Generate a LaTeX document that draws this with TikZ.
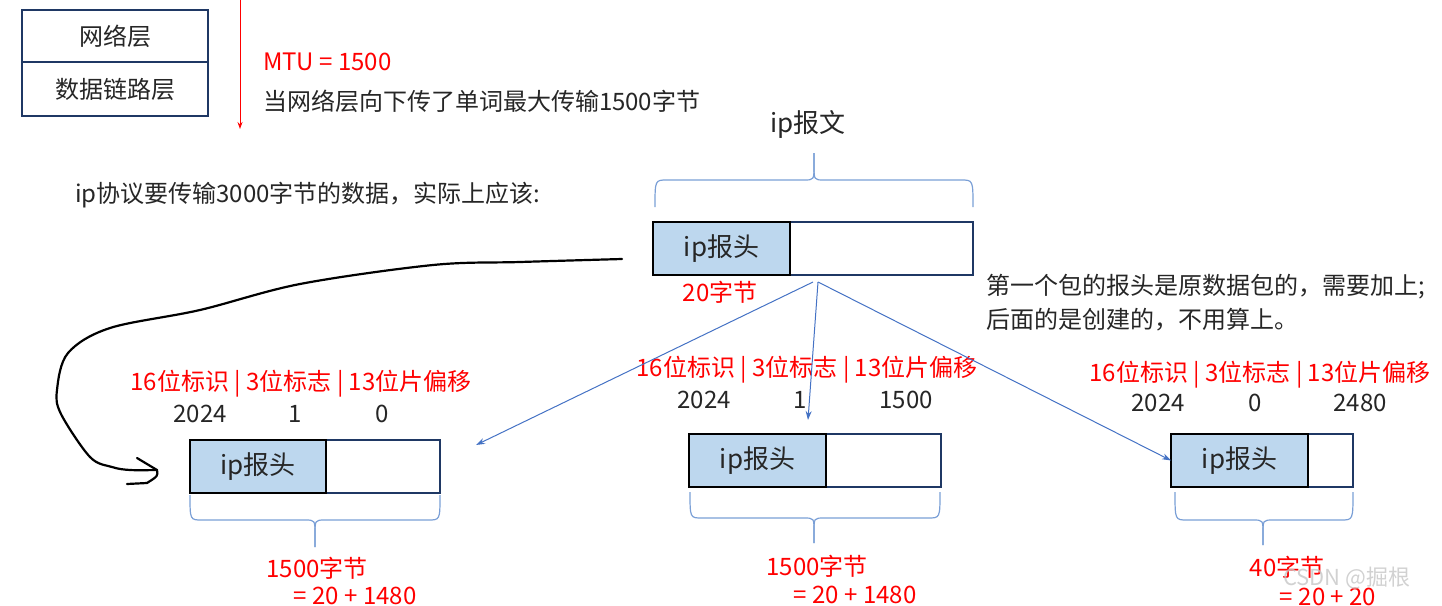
\documentclass[tikz,border=0pt]{standalone}
\usepackage{fontspec}
\setmainfont{Noto Sans CJK SC}
\usetikzlibrary{arrows.meta,calc}
\definecolor{myred}{HTML}{FF0000}
\definecolor{txt}{HTML}{262626}
\definecolor{hdrfill}{HTML}{BDD7EE}
\definecolor{navy}{HTML}{1F3864}
\definecolor{bracecol}{HTML}{7A9FD6}
\definecolor{arrcol}{HTML}{4472C4}
\newcommand\mybrace[6]{%
  \draw[bracestyle] (#1,#4) .. controls (#1,#5) .. (#1+12,#5) -- (#3-10,#5) .. controls (#3,#5) .. (#3,{#5+(#6-#5)*0.55}) -- (#3,#6);
  \draw[bracestyle] (#2,#4) .. controls (#2,#5) .. (#2-12,#5) -- (#3+10,#5) .. controls (#3,#5) .. (#3,{#5+(#6-#5)*0.55}) -- (#3,#6);}
\begin{document}
\begin{tikzpicture}[x=1pt,y=-1pt,
  every node/.style={inner sep=0pt, outer sep=0pt, text=txt},
  lbl/.style={font=\fontsize{24}{27}\selectfont},
  rlbl/.style={lbl, text=myred},
  big/.style={font=\fontsize{26}{29}\selectfont},
  hdr/.style={draw=black, fill=hdrfill, line width=1.6pt, minimum height=53pt, big, anchor=north west},
  bodyb/.style={draw=navy, line width=1.6pt, minimum height=53pt, anchor=north west},
  layerbox/.style={draw=navy, line width=1.5pt, minimum width=186pt, anchor=north west, lbl},
  bracestyle/.style={draw=bracecol, line width=1.2pt},
  blarr/.style={draw=arrcol, line width=1pt, -{Stealth[length=9pt,width=6pt]}},
]
\useasboundingbox (0,0) rectangle (1442,605);

% layer boxes
\node[layerbox, minimum height=52pt] (net) at (22,10) {网络层};
\node[layerbox, minimum height=54pt] (dl) at (22,62) {数据链路层};

% MTU arrow
\coordinate (mt) at (240,0);
\coordinate (mb) at (240,129);
\draw[myred, line width=1pt, -{Stealth[length=7pt,width=5pt]}] (mt) -- (mb);
\node[rlbl, anchor=west] (mtu) at (263,62) {MTU = 1500};
\node[lbl, anchor=west] (mtud) at (263,101) {当网络层向下传了单词最大传输1500字节};

\node[big] (ipbw) at (808,124) {ip报文};
\node[lbl, anchor=west] (q) at (75,195) {ip协议要传输3000字节的数据，实际上应该:};

% main packet
\mybrace{655}{973}{814}{207}{180}{153}
\node[bodyb, minimum width=320pt] (B0) at (653,222) {};
\node[hdr, minimum width=137pt] (H0) at (653,222) {ip报头};
\node[rlbl] (b20) at (720,292) {20字节};

\node[lbl, anchor=west] (n1) at (986,287) {第一个包的报头是原数据包的，需要加上;};
\node[lbl, anchor=west] (n2) at (986,320) {后面的是创建的，不用算上。};

% fragment 1
\node[bodyb, minimum width=250pt] (B1) at (190,440) {};
\node[hdr, minimum width=136pt] (H1) at (190,440) {ip报头};
\node[rlbl] (f1) at (301,384) {16位标识 | 3位标志 | 13位片偏移};
\node[lbl] (v11) at (200,414) {2024};
\node[lbl] (v12) at (295,414) {1};
\node[lbl] (v13) at (382,414) {0};
\mybrace{190}{440}{315}{495}{520}{547}
\node[rlbl] (s1) at (317,568) {1500字节};
\node[rlbl] (e1) at (355,596) {= 20 + 1480};

% fragment 2
\node[bodyb, minimum width=252pt] (B2) at (689,434) {};
\node[hdr, minimum width=137pt] (H2) at (689,434) {ip报头};
\node[rlbl] (f2) at (807,370) {16位标识 | 3位标志 | 13位片偏移};
\node[lbl] (v21) at (704,400) {2024};
\node[lbl] (v22) at (800,400) {1};
\node[lbl] (v23) at (906,400) {1500};
\mybrace{690}{940}{814}{492}{518}{543}
\node[rlbl] (s2) at (817,566) {1500字节};
\node[rlbl] (e2) at (855,595) {= 20 + 1480};

% fragment 3
\node[bodyb, minimum width=182pt] (B3) at (1171,434) {};
\node[hdr, minimum width=137pt] (H3) at (1171,434) {ip报头};
\node[rlbl] (f3) at (1260,375) {16位标识 | 3位标志 | 13位片偏移};
\node[lbl] (v31) at (1158,403) {2024};
\node[lbl] (v32) at (1255,403) {0};
\node[lbl] (v33) at (1360,403) {2480};
\mybrace{1175}{1353}{1263}{492}{520}{545}
\node[rlbl] (s3) at (1287,567) {40字节};
\node[rlbl] (e3) at (1328,597) {= 20 + 20};

% blue arrows
\coordinate (apL) at (813,282);
\coordinate (apR) at (818,282);
\coordinate (t1) at (476,445);
\coordinate (t2) at (808,420);
\coordinate (t3) at (H3.west);
\draw[blarr] (apL) -- (t1);
\draw[blarr] (apR) -- (t2);
\draw[blarr] (apR) -- (t3);

% hand-drawn black arrow
\coordinate (cs) at (622,259);
\coordinate (ce) at (157,470);
\draw[line width=2.2pt, line cap=round, line join=round] plot[smooth, tension=0.55] coordinates {(cs) (520,262) (433,265) (300,284) (200,310) (110,328) (68,353) (57,390) (61,414) (90,457) (112,467) (130,470) (ce)};
\draw[line width=2.2pt, line cap=round, line join=round] (137,458) -- (ce) .. controls (158,476) .. (147,483) -- (127,484);

% watermark
\node[text=gray!45, font=\fontsize{22}{24}\selectfont, anchor=west, opacity=0.8] (wm) at (1283,578) {CSDN @掘根};
\end{tikzpicture}
\end{document}
